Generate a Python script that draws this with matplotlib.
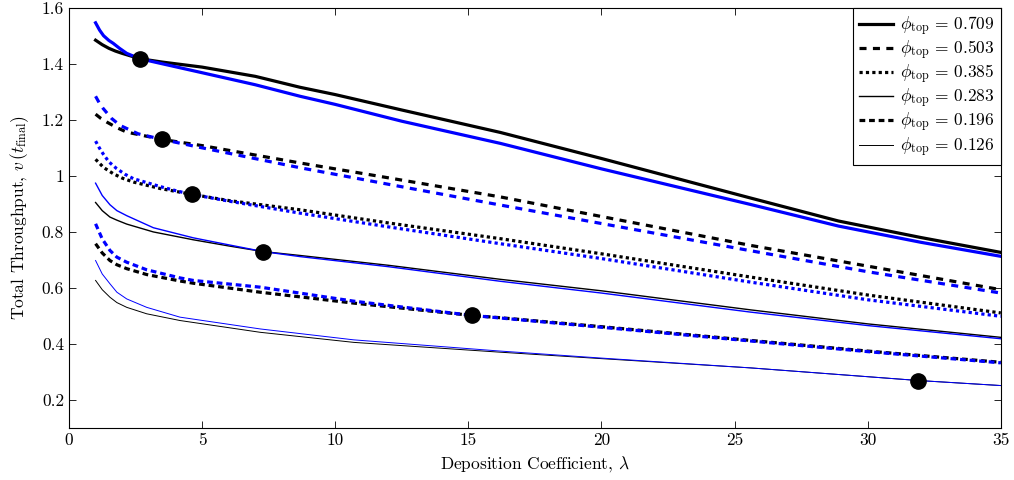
import matplotlib.pyplot as plt
import numpy as np

plt.rcParams['font.family'] = 'serif'
plt.rcParams['font.serif'] = ['cmr10', 'DejaVu Serif']
plt.rcParams['mathtext.fontset'] = 'cm'
plt.rcParams['axes.unicode_minus'] = False
plt.rcParams['font.size'] = 12.5

phi_top = [0.709, 0.503, 0.385, 0.283, 0.196, 0.126]

# black curves
lam_k1 = [1, 1.25, 1.5, 1.75, 2, 2.66, 3.5, 5, 7, 8.68, 10, 12.5, 16.2, 20, 25.6, 28.9, 32, 35]
v_k1 = [1.484, 1.468, 1.455, 1.445, 1.437, 1.418, 1.406, 1.388, 1.355, 1.316, 1.29, 1.235, 1.155, 1.062, 0.921, 0.839, 0.780, 0.727]
lam_k2 = [1, 1.2, 1.42, 1.8, 2.17, 3.5, 5, 8.68, 12, 16.2, 20, 25.6, 30, 35]
v_k2 = [1.22, 1.205, 1.192, 1.172, 1.156, 1.130, 1.108, 1.046, 0.993, 0.925, 0.855, 0.752, 0.678, 0.594]
lam_k3 = [1, 1.3, 1.66, 2.0, 2.42, 3.42, 4.62, 6, 8.68, 12, 16.2, 20, 25.6, 30, 35]
v_k3 = [1.059, 1.03, 1.008, 0.992, 0.978, 0.955, 0.934, 0.912, 0.879, 0.832, 0.776, 0.722, 0.639, 0.575, 0.511]
lam_k4 = [1, 1.25, 1.54, 1.8, 2.17, 3.17, 4.67, 6, 7.29, 8.68, 12, 16.2, 20, 25.6, 30, 35]
v_k4 = [0.905, 0.876, 0.853, 0.842, 0.828, 0.800, 0.772, 0.750, 0.730, 0.716, 0.681, 0.631, 0.590, 0.522, 0.472, 0.424]
lam_k5 = [1, 1.25, 1.54, 1.8, 2.17, 2.92, 4.17, 4.67, 7.18, 10.7, 15.15, 16.2, 20, 25.6, 30, 35]
v_k5 = [0.758, 0.725, 0.698, 0.683, 0.669, 0.648, 0.625, 0.617, 0.585, 0.546, 0.502, 0.494, 0.462, 0.413, 0.375, 0.335]
lam_k6 = [1, 1.25, 1.54, 1.8, 2.17, 2.92, 4.17, 7.18, 10.7, 16.2, 20, 25.6, 31.9, 35]
v_k6 = [0.627, 0.594, 0.567, 0.548, 0.531, 0.508, 0.484, 0.442, 0.406, 0.371, 0.348, 0.315, 0.270, 0.252]

# blue curves
lam_b1 = [1, 1.15, 1.3, 1.5, 1.66, 1.9, 2.17, 2.66, 3.5, 5, 7, 8.68, 10, 12.5, 16.2, 20, 25.6, 28.9, 32, 35]
v_b1 = [1.546, 1.52, 1.50, 1.483, 1.473, 1.455, 1.437, 1.418, 1.40, 1.368, 1.325, 1.284, 1.255, 1.195, 1.116, 1.025, 0.898, 0.821, 0.763, 0.713]
lam_b2 = [1, 1.14, 1.28, 1.6, 1.92, 2.6, 3.5, 5, 8.68, 12, 16.2, 20, 25.6, 30, 35]
v_b2 = [1.284, 1.26, 1.241, 1.205, 1.18, 1.15, 1.130, 1.10, 1.029, 0.97, 0.896, 0.83, 0.733, 0.658, 0.582]
lam_b3 = [1, 1.14, 1.28, 1.5, 1.79, 2.1, 2.42, 3.42, 4.1, 4.62, 6, 8.68, 12, 16.2, 20, 25.6, 30, 35]
v_b3 = [1.124, 1.10, 1.079, 1.05, 1.026, 1.006, 0.990, 0.962, 0.945, 0.934, 0.910, 0.867, 0.818, 0.758, 0.705, 0.621, 0.558, 0.499]
lam_b4 = [1, 1.25, 1.54, 1.8, 2.17, 3.17, 4.67, 6, 7.29, 8.68, 12, 16.2, 20, 25.6, 30, 35]
v_b4 = [0.974, 0.930, 0.897, 0.876, 0.858, 0.815, 0.779, 0.754, 0.730, 0.712, 0.676, 0.624, 0.582, 0.514, 0.466, 0.419]
lam_b5 = [1, 1.25, 1.54, 1.8, 2.17, 2.92, 4.17, 4.67, 7.18, 10.7, 15.15, 16.2, 20, 25.6, 30, 35]
v_b5 = [0.829, 0.775, 0.734, 0.710, 0.692, 0.665, 0.636, 0.627, 0.603, 0.553, 0.502, 0.493, 0.460, 0.411, 0.373, 0.333]
lam_b6 = [1, 1.25, 1.54, 1.8, 2.17, 2.92, 4.17, 7.18, 10.7, 16.2, 20, 25.6, 31.9, 35]
v_b6 = [0.698, 0.650, 0.615, 0.585, 0.561, 0.531, 0.496, 0.454, 0.415, 0.375, 0.350, 0.315, 0.270, 0.252]

# crossing points
lam_cross = [2.66, 3.5, 4.62, 7.29, 15.15, 31.9]
v_cross = [1.418, 1.130, 0.934, 0.730, 0.502, 0.270]

lam_black = [lam_k1, lam_k2, lam_k3, lam_k4, lam_k5, lam_k6]
v_black = [v_k1, v_k2, v_k3, v_k4, v_k5, v_k6]
lam_blue = [lam_b1, lam_b2, lam_b3, lam_b4, lam_b5, lam_b6]
v_blue = [v_b1, v_b2, v_b3, v_b4, v_b5, v_b6]

styles = [
    dict(lw=2.3, ls='-'),
    dict(lw=2.3, ls=(0, (2.2, 2.0))),
    dict(lw=2.3, ls=(0, (1.0, 1.0))),
    dict(lw=1.0, ls='-'),
    dict(lw=2.3, ls=(0, (1.8, 1.2))),
    dict(lw=0.7, ls='-'),
]

fig = plt.figure(figsize=(10.14, 4.8), dpi=100)
ax = fig.add_axes([0.068, 0.108, 0.919, 0.876])

for i, st in enumerate(styles):
    ax.plot(lam_black[i], v_black[i], color='black',
            label=r'$\phi_{\mathrm{top}}\,=\,%.3f$' % phi_top[i], **st)
for i, st in enumerate(styles):
    ax.plot(lam_blue[i], v_blue[i], color='blue', **st)

ax.plot(lam_cross, v_cross, 'o', color='black', ms=11, zorder=5)

ax.set_xlim(0, 35)
ax.set_ylim(0.1, 1.6)
ax.set_xticks(np.arange(0, 36, 5))
yt = [0.2, 0.4, 0.6, 0.8, 1.0, 1.2, 1.4, 1.6]
ax.set_yticks(yt)
ax.set_yticklabels(['0.2', '0.4', '0.6', '0.8', '1', '1.2', '1.4', '1.6'])
ax.tick_params(direction='in', top=True, right=True, length=5, width=0.6, labelsize=12.5)
for s in ax.spines.values():
    s.set_linewidth(0.8)

ax.set_xlabel(r'Deposition Coefficient, $\lambda$', fontsize=12.5, labelpad=4)
ax.set_ylabel(r'Total Throughput, $v\,(t_{\mathrm{final}})$', fontsize=12.5, labelpad=8)

leg = ax.legend(loc='upper right', borderaxespad=0, fancybox=False, edgecolor='black',
                framealpha=1, fontsize=12.5, handlelength=2.0, labelspacing=0.02,
                borderpad=0.35, handletextpad=0.4)
leg.get_frame().set_linewidth(0.8)

fig.savefig('out.png', dpi=100)
